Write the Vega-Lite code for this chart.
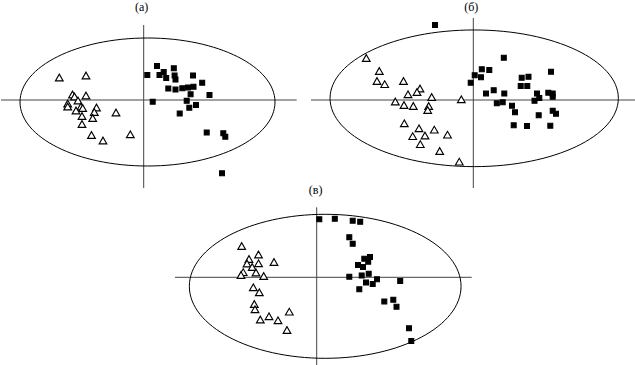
{
  "$schema": "https://vega.github.io/schema/vega-lite/v6.json",
  "padding": 0,
  "background": "white",
  "config": {"view": {"stroke": null}},
  "datasets": {
    "panelA": [
      {"group": "triangle", "x": -8.44, "y": 2.25}, {"group": "triangle", "x": -5.77, "y": 2.45},
      {"group": "triangle", "x": -7.12, "y": 0.55}, {"group": "triangle", "x": -6.92, "y": 0.35},
      {"group": "triangle", "x": -5.77, "y": 0.45}, {"group": "triangle", "x": -7.6, "y": -0.35},
      {"group": "triangle", "x": -7.6, "y": -0.65}, {"group": "triangle", "x": -6.57, "y": -0.05},
      {"group": "triangle", "x": -6.27, "y": -0.65}, {"group": "triangle", "x": -6.77, "y": -1.05},
      {"group": "triangle", "x": -6.1, "y": -0.8}, {"group": "triangle", "x": -4.72, "y": -0.75},
      {"group": "triangle", "x": -4.94, "y": -1.2}, {"group": "triangle", "x": -6.17, "y": -1.6},
      {"group": "triangle", "x": -5.1, "y": -1.8}, {"group": "triangle", "x": -6.17, "y": -2.4},
      {"group": "triangle", "x": -2.77, "y": -1.25}, {"group": "triangle", "x": -5.22, "y": -3.5},
      {"group": "triangle", "x": -4.07, "y": -4.05}, {"group": "triangle", "x": -1.34, "y": -3.43},
      {"group": "square", "x": 0.36, "y": 2.5}, {"group": "square", "x": 1.33, "y": 3.4},
      {"group": "square", "x": 2.0, "y": 2.8}, {"group": "square", "x": 1.58, "y": 2.5},
      {"group": "square", "x": 2.25, "y": 2.2}, {"group": "square", "x": 3.01, "y": 3.17},
      {"group": "square", "x": 3.09, "y": 2.45}, {"group": "square", "x": 3.18, "y": 2.04},
      {"group": "square", "x": 4.93, "y": 2.45}, {"group": "square", "x": 5.85, "y": 1.73},
      {"group": "square", "x": 2.46, "y": 1.14}, {"group": "square", "x": 3.18, "y": 1.04},
      {"group": "square", "x": 3.86, "y": 1.17}, {"group": "square", "x": 4.43, "y": 1.25},
      {"group": "square", "x": 4.98, "y": 1.33}, {"group": "square", "x": 4.69, "y": 0.57},
      {"group": "square", "x": 6.58, "y": 0.5}, {"group": "square", "x": 0.9, "y": -0.17},
      {"group": "square", "x": 4.3, "y": -0.08}, {"group": "square", "x": 5.23, "y": -0.5},
      {"group": "square", "x": 4.56, "y": -0.77}, {"group": "square", "x": 3.6, "y": -1.35},
      {"group": "square", "x": 6.3, "y": -3.25}, {"group": "square", "x": 7.96, "y": -3.33},
      {"group": "square", "x": 8.16, "y": -3.67}, {"group": "square", "x": 7.83, "y": -7.33}
    ],
    "panelB": [
      {"group": "triangle", "x": -10.7, "y": 4.2}, {"group": "triangle", "x": -9.4, "y": 2.9},
      {"group": "triangle", "x": -9.63, "y": 1.9}, {"group": "triangle", "x": -8.86, "y": 1.58},
      {"group": "triangle", "x": -6.98, "y": 1.9}, {"group": "triangle", "x": -5.33, "y": 1.15},
      {"group": "triangle", "x": -5.63, "y": 0.8}, {"group": "triangle", "x": -6.53, "y": 0.57},
      {"group": "triangle", "x": -4.16, "y": 0.3}, {"group": "triangle", "x": -7.8, "y": -0.15},
      {"group": "triangle", "x": -6.93, "y": -0.5}, {"group": "triangle", "x": -6.0, "y": -0.6},
      {"group": "triangle", "x": -4.46, "y": -0.6}, {"group": "triangle", "x": -4.56, "y": -1.0},
      {"group": "triangle", "x": -1.2, "y": 0.07}, {"group": "triangle", "x": -6.9, "y": -2.33},
      {"group": "triangle", "x": -5.43, "y": -2.83}, {"group": "triangle", "x": -3.9, "y": -2.97},
      {"group": "triangle", "x": -6.06, "y": -3.62}, {"group": "triangle", "x": -4.83, "y": -3.55},
      {"group": "triangle", "x": -2.58, "y": -3.47}, {"group": "triangle", "x": -5.3, "y": -4.42},
      {"group": "triangle", "x": -3.36, "y": -5.1}, {"group": "triangle", "x": -1.4, "y": -6.17},
      {"group": "square", "x": 3.05, "y": 4.23}, {"group": "square", "x": 0.85, "y": 3.07},
      {"group": "square", "x": 1.6, "y": 3.0}, {"group": "square", "x": 0.14, "y": 2.47},
      {"group": "square", "x": 0.77, "y": 2.27}, {"group": "square", "x": -0.26, "y": 1.73},
      {"group": "square", "x": 4.84, "y": 2.23}, {"group": "square", "x": 5.52, "y": 2.32},
      {"group": "square", "x": 7.77, "y": 2.83}, {"group": "square", "x": 4.74, "y": 1.4},
      {"group": "square", "x": 5.4, "y": 1.4}, {"group": "square", "x": 1.27, "y": 0.65},
      {"group": "square", "x": 2.04, "y": 0.98}, {"group": "square", "x": 3.1, "y": 0.65},
      {"group": "square", "x": 2.35, "y": -0.33}, {"group": "square", "x": 2.94, "y": -0.23},
      {"group": "square", "x": 6.37, "y": 0.65}, {"group": "square", "x": 6.6, "y": 0.2},
      {"group": "square", "x": 6.12, "y": -0.08}, {"group": "square", "x": 7.5, "y": 0.73},
      {"group": "square", "x": 7.94, "y": 0.65}, {"group": "square", "x": 7.94, "y": 0.33},
      {"group": "square", "x": 3.87, "y": -0.57}, {"group": "square", "x": 4.17, "y": -1.23},
      {"group": "square", "x": 6.54, "y": -1.53}, {"group": "square", "x": 7.94, "y": -1.08},
      {"group": "square", "x": 8.27, "y": -1.37}, {"group": "square", "x": 4.04, "y": -2.53},
      {"group": "square", "x": 5.37, "y": -2.6}, {"group": "square", "x": 7.7, "y": -2.57},
      {"group": "square", "x": -3.83, "y": 7.5}
    ],
    "panelC": [
      {"group": "triangle", "x": -7.5, "y": 3.13}, {"group": "triangle", "x": -5.82, "y": 2.28},
      {"group": "triangle", "x": -6.77, "y": 1.83}, {"group": "triangle", "x": -6.97, "y": 1.38},
      {"group": "triangle", "x": -5.82, "y": 1.4}, {"group": "triangle", "x": -4.27, "y": 1.53},
      {"group": "triangle", "x": -6.45, "y": 1.03}, {"group": "triangle", "x": -7.35, "y": 0.51},
      {"group": "triangle", "x": -6.07, "y": 0.48}, {"group": "triangle", "x": -7.57, "y": 0.23},
      {"group": "triangle", "x": -5.3, "y": 0.13}, {"group": "triangle", "x": -6.34, "y": -1.0},
      {"group": "triangle", "x": -5.74, "y": -1.5}, {"group": "triangle", "x": -6.24, "y": -2.67},
      {"group": "triangle", "x": -6.17, "y": -3.2}, {"group": "triangle", "x": -5.64, "y": -4.22},
      {"group": "triangle", "x": -4.77, "y": -3.9}, {"group": "triangle", "x": -3.87, "y": -4.3},
      {"group": "triangle", "x": -2.74, "y": -3.44}, {"group": "triangle", "x": -2.97, "y": -5.27},
      {"group": "square", "x": 0.26, "y": 5.8}, {"group": "square", "x": 1.81, "y": 5.85},
      {"group": "square", "x": 3.6, "y": 5.66}, {"group": "square", "x": 4.35, "y": 5.55},
      {"group": "square", "x": 3.26, "y": 4.01}, {"group": "square", "x": 3.6, "y": 3.35},
      {"group": "square", "x": 4.76, "y": 1.86}, {"group": "square", "x": 5.33, "y": 2.03},
      {"group": "square", "x": 5.15, "y": 1.56}, {"group": "square", "x": 4.13, "y": 1.23},
      {"group": "square", "x": 4.63, "y": 1.03}, {"group": "square", "x": 3.26, "y": 0.06},
      {"group": "square", "x": 4.5, "y": 0.19}, {"group": "square", "x": 5.2, "y": 0.36},
      {"group": "square", "x": 6.03, "y": -0.2}, {"group": "square", "x": 4.93, "y": -0.52},
      {"group": "square", "x": 5.6, "y": -0.67}, {"group": "square", "x": 4.26, "y": -1.2},
      {"group": "square", "x": 8.35, "y": -0.37}, {"group": "square", "x": 6.76, "y": -2.42},
      {"group": "square", "x": 7.66, "y": -2.24}, {"group": "square", "x": 7.98, "y": -2.94},
      {"group": "square", "x": 9.23, "y": -5.1}, {"group": "square", "x": 9.46, "y": -6.37}
    ]
  },
  "concat": [
    {
      "width": 296,
      "height": 183,
      "layer": [
        {
          "data": {"values": [{}]},
          "mark": {"type": "rule", "color": "#444", "strokeWidth": 1},
          "encoding": {"x": {"datum": -14.27, "type": "quantitative", "axis": null}, "x2": {"datum": 15.3}, "y": {"datum": 0, "type": "quantitative", "axis": null}}
        },
        {
          "data": {"values": [{}]},
          "mark": {"type": "rule", "color": "#444", "strokeWidth": 1},
          "encoding": {"x": {"datum": 0, "type": "quantitative", "axis": null}, "y": {"datum": 7.5, "type": "quantitative", "axis": null}, "y2": {"datum": -8.8}}
        },
        {
          "data": {"values": [{}]},
          "mark": {"type": "point", "shape": "M -1 0 A 1 0.502 0 1 1 1 0 A 1 0.502 0 1 1 -1 0 Z", "size": 65025, "filled": false, "stroke": "black", "strokeWidth": 1, "opacity": 1},
          "encoding": {"x": {"datum": 0.38, "type": "quantitative", "axis": null}, "y": {"datum": -0.2, "type": "quantitative", "axis": null}}
        },
        {
          "data": {"name": "panelA"},
          "mark": {"type": "point", "filled": true, "stroke": "black", "strokeWidth": 1.1, "opacity": 1},
          "encoding": {
            "x": {"field": "x", "type": "quantitative", "scale": {"domain": [-14.27, 15.33], "nice": false, "zero": false}, "axis": null},
            "y": {"field": "y", "type": "quantitative", "scale": {"domain": [-8.3, 10], "nice": false, "zero": false}, "axis": null},
            "shape": {"field": "group", "type": "nominal", "scale": {"domain": ["triangle", "square"], "range": ["triangle-up", "square"]}, "legend": null},
            "fill": {"field": "group", "type": "nominal", "scale": {"domain": ["triangle", "square"], "range": ["white", "black"]}, "legend": null},
            "size": {"field": "group", "type": "nominal", "scale": {"domain": ["triangle", "square"], "range": [60, 24]}, "legend": null}
          }
        },
        {
          "data": {"values": [{"label": "(а)"}]},
          "mark": {"type": "text", "font": "Liberation Serif", "fontSize": 12, "align": "center", "baseline": "middle", "dx": -2, "fill": "#000"},
          "encoding": {"text": {"field": "label", "type": "nominal"}, "x": {"datum": 0, "type": "quantitative", "axis": null}, "y": {"datum": 9.3, "type": "quantitative", "axis": null}}
        }
      ]
    },
    {
      "width": 325,
      "height": 183,
      "layer": [
        {
          "data": {"values": [{}]},
          "mark": {"type": "rule", "color": "#444", "strokeWidth": 1},
          "encoding": {"x": {"datum": -16.23, "type": "quantitative", "axis": null}, "x2": {"datum": 16.27}, "y": {"datum": 0, "type": "quantitative", "axis": null}}
        },
        {
          "data": {"values": [{}]},
          "mark": {"type": "rule", "color": "#444", "strokeWidth": 1},
          "encoding": {"x": {"datum": 0, "type": "quantitative", "axis": null}, "y": {"datum": 8.2, "type": "quantitative", "axis": null}, "y2": {"datum": -8.8}}
        },
        {
          "data": {"values": [{}]},
          "mark": {"type": "point", "shape": "M -1 0 A 1 0.474 0 1 1 1 0 A 1 0.474 0 1 1 -1 0 Z", "size": 83117, "filled": false, "stroke": "black", "strokeWidth": 1, "opacity": 1},
          "encoding": {"x": {"datum": 0.09, "type": "quantitative", "axis": null}, "y": {"datum": 0.17, "type": "quantitative", "axis": null}}
        },
        {
          "data": {"name": "panelB"},
          "mark": {"type": "point", "filled": true, "stroke": "black", "strokeWidth": 1.1, "opacity": 1},
          "encoding": {
            "x": {"field": "x", "type": "quantitative", "scale": {"domain": [-16.23, 16.27], "nice": false, "zero": false}, "axis": null},
            "y": {"field": "y", "type": "quantitative", "scale": {"domain": [-8.3, 10], "nice": false, "zero": false}, "axis": null},
            "shape": {"field": "group", "type": "nominal", "scale": {"domain": ["triangle", "square"], "range": ["triangle-up", "square"]}, "legend": null},
            "fill": {"field": "group", "type": "nominal", "scale": {"domain": ["triangle", "square"], "range": ["white", "black"]}, "legend": null},
            "size": {"field": "group", "type": "nominal", "scale": {"domain": ["triangle", "square"], "range": [60, 24]}, "legend": null}
          }
        },
        {
          "data": {"values": [{"label": "(б)"}]},
          "mark": {"type": "text", "font": "Liberation Serif", "fontSize": 12, "align": "center", "baseline": "middle", "dx": -2, "fill": "#000"},
          "encoding": {"text": {"field": "label", "type": "nominal"}, "x": {"datum": 0, "type": "quantitative", "axis": null}, "y": {"datum": 9.3, "type": "quantitative", "axis": null}}
        }
      ]
    },
    {
      "width": 296,
      "height": 182,
      "layer": [
        {
          "data": {"values": [{}]},
          "mark": {"type": "rule", "color": "#444", "strokeWidth": 1},
          "encoding": {"x": {"datum": -14.17, "type": "quantitative", "axis": null}, "x2": {"datum": 15.5}, "y": {"datum": 0, "type": "quantitative", "axis": null}}
        },
        {
          "data": {"values": [{}]},
          "mark": {"type": "rule", "color": "#444", "strokeWidth": 1},
          "encoding": {"x": {"datum": 0, "type": "quantitative", "axis": null}, "y": {"datum": 7.0, "type": "quantitative", "axis": null}, "y2": {"datum": -8.77}}
        },
        {
          "data": {"values": [{}]},
          "mark": {"type": "point", "shape": "M -1 0 A 1 0.53 0 1 1 1 0 A 1 0.53 0 1 1 -1 0 Z", "size": 73821, "filled": false, "stroke": "black", "strokeWidth": 1, "opacity": 1},
          "encoding": {"x": {"datum": 0.85, "type": "quantitative", "axis": null}, "y": {"datum": -0.9, "type": "quantitative", "axis": null}}
        },
        {
          "data": {"name": "panelC"},
          "mark": {"type": "point", "filled": true, "stroke": "black", "strokeWidth": 1.1, "opacity": 1},
          "encoding": {
            "x": {"field": "x", "type": "quantitative", "scale": {"domain": [-31.57, 15.53], "range": [0, 471], "nice": false, "zero": false}, "axis": null},
            "y": {"field": "y", "type": "quantitative", "scale": {"domain": [-8.77, 9.43], "nice": false, "zero": false}, "axis": null},
            "shape": {"field": "group", "type": "nominal", "scale": {"domain": ["triangle", "square"], "range": ["triangle-up", "square"]}, "legend": null},
            "fill": {"field": "group", "type": "nominal", "scale": {"domain": ["triangle", "square"], "range": ["white", "black"]}, "legend": null},
            "size": {"field": "group", "type": "nominal", "scale": {"domain": ["triangle", "square"], "range": [60, 24]}, "legend": null}
          }
        },
        {
          "data": {"values": [{"label": "(в)"}]},
          "mark": {"type": "text", "font": "Liberation Serif", "fontSize": 12, "align": "center", "baseline": "middle", "dx": -1, "fill": "#000"},
          "encoding": {"text": {"field": "label", "type": "nominal"}, "x": {"datum": 0, "type": "quantitative", "axis": null}, "y": {"datum": 8.73, "type": "quantitative", "axis": null}}
        }
      ]
    }
  ],
  "columns": 2,
  "align": "none",
  "bounds": "flush",
  "spacing": {"row": 0, "column": 14}
}
